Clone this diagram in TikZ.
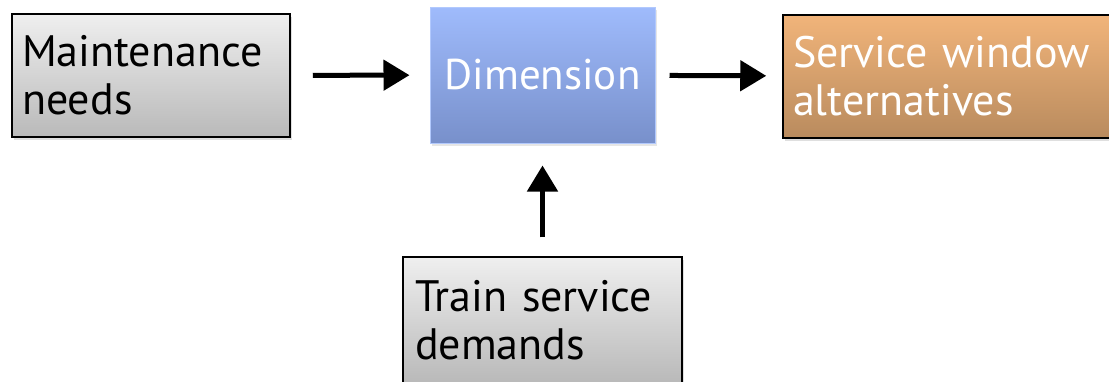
\documentclass[tikz,border=0pt]{standalone}
\usepackage{fontspec}
\setmainfont{PT Sans}
\usepackage{xcolor}
\definecolor{grayTop}{HTML}{EFEFEF}
\definecolor{grayBot}{HTML}{B9B9B9}
\definecolor{blueTop}{HTML}{9FBBFC}
\definecolor{blueBot}{HTML}{7890CB}
\definecolor{orangeTop}{HTML}{F1B47A}
\definecolor{orangeBot}{HTML}{B98B5E}
\usetikzlibrary{positioning,arrows.meta,shadows}
\tikzset{%
  inputBox/.style={%
    rectangle,
    draw=black,
    line width=1.5pt,
    top color=grayTop,
    bottom color=grayBot,
    drop shadow={opacity=0.25,shadow xshift=2pt,shadow yshift=-3pt},
    inner xsep=10pt,
    align=left,
    font=\fontsize{44}{48}\selectfont
  },
  dimBox/.style={%
    rectangle,
    draw=blueTop!80!white,
    line width=1pt,
    top color=blueTop,
    bottom color=blueBot,
    drop shadow={opacity=0.2,shadow xshift=2pt,shadow yshift=-3pt},
    text=white,
    minimum width=225pt,
    minimum height=136pt,
    align=center,
    font=\fontsize{43}{48}\selectfont
  },
  outputBox/.style={%
    inputBox,
    top color=orangeTop,
    bottom color=orangeBot,
    text=white
  },
  arrowLine/.style={%
    -{Triangle[length=26pt,width=30pt]},
    line width=5pt,
    color=black
  }
}
\begin{document}
\begin{tikzpicture}[x=1pt,y=-1pt]
  \useasboundingbox (0,0) rectangle (1109,381);
  \node[inputBox, minimum width=278pt, minimum height=123pt, text width=258pt] (maint) at (151,75.5) {Maintenance\\needs};
  \node[dimBox] (dim) at (542.5,75) {Dimension};
  \node[outputBox, minimum width=337pt, minimum height=123pt, text width=317pt] (service) at (951.5,76.5) {Service window\\alternatives};
  \node[inputBox, minimum width=279pt, minimum height=126pt, text width=255pt, inner xsep=12pt] (train) at (542.5,320) {Train service\\demands};

  \draw[arrowLine, shorten <=22pt, shorten >=20pt] (maint) -- (dim);
  \draw[arrowLine, shorten <=14pt, shorten >=16pt] (dim) -- (service);
  \draw[arrowLine, shorten <=19pt, shorten >=22pt] (train) -- (dim);
\end{tikzpicture}
\end{document}
